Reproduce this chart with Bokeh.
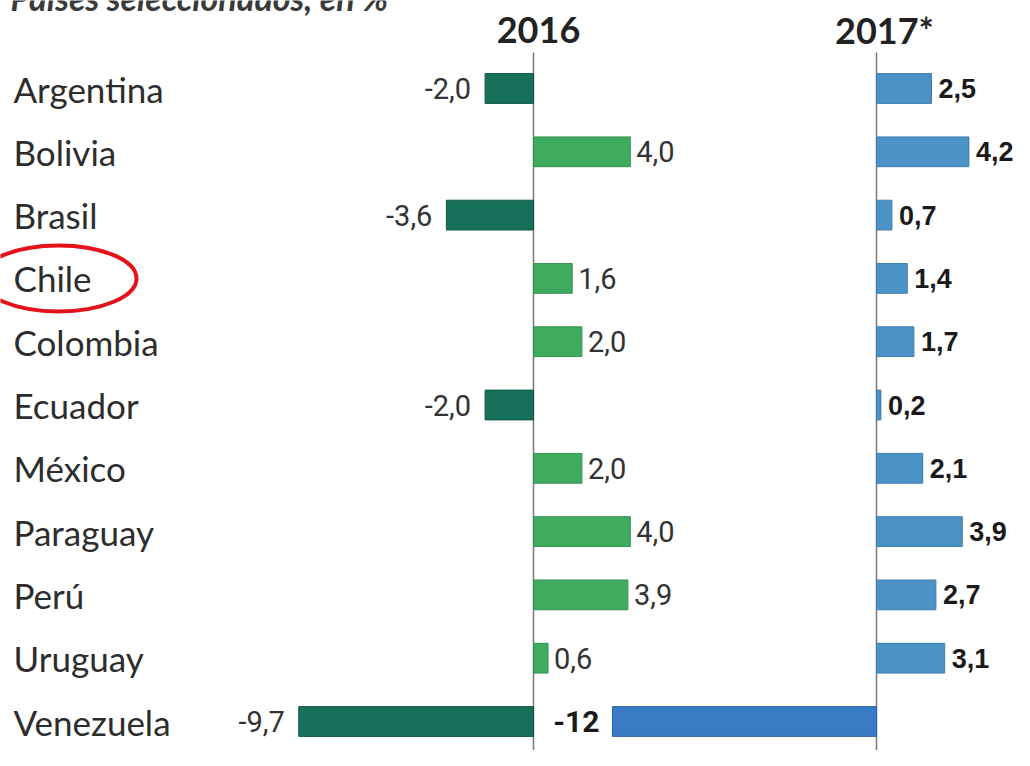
from bokeh.plotting import figure
from bokeh.models import Range1d, Label, ColumnDataSource
from bokeh.core.properties import value
from bokeh.embed import file_html
from bokeh.resources import INLINE

# ---- data ----
countries = ["Argentina", "Bolivia", "Brasil", "Chile", "Colombia", "Ecuador",
             "México", "Paraguay", "Perú", "Uruguay", "Venezuela"]
g2016 = [-2.0, 4.0, -3.6, 1.6, 2.0, -2.0, 2.0, 4.0, 3.9, 0.6, -9.7]
g2017 = [2.5, 4.2, 0.7, 1.4, 1.7, 0.2, 2.1, 3.9, 2.7, 3.1, -12.0]
lab2016 = ["-2,0", "4,0", "-3,6", "1,6", "2,0", "-2,0", "2,0", "4,0", "3,9", "0,6", "-9,7"]
lab2017 = ["2,5", "4,2", "0,7", "1,4", "1,7", "0,2", "2,1", "3,9", "2,7", "3,1", "-12"]
headers = ["2016", "2017*"]
subtitle = "Países seleccionados, en %"
highlight = "Chile"

# ---- layout constants ----
W, H = 1014, 750
PX16, AX16 = 24.2, 533     # px per unit, axis position (canvas px)
PX17, AX17 = 22.0, 876
PXY, ROW0 = 63.3, 88       # px per row, first row centre (canvas px)

x16 = Range1d(-AX16 / PX16, (W - AX16) / PX16)
x17 = Range1d(-AX17 / PX17, (W - AX17) / PX17)
ytop = ROW0 / PXY
yr = Range1d(ytop - H / PXY, ytop)

p = figure(width=W, height=H, x_range=x16, y_range=yr, output_backend="svg",
           toolbar_location=None, min_border=0, x_axis_location=None,
           y_axis_location=None, outline_line_color=None)
p.extra_x_ranges = {"y17": x17}
p.grid.visible = False
p.background_fill_color = "white"
p.border_fill_color = "white"

n = len(countries)
ys = [-i for i in range(n)]

# axis lines
line_top = ytop - 52 / PXY
p.segment(x0=[0], x1=[0], y0=[line_top], y1=[yr.start], line_color="#7a7a7a", line_width=1.5)
p.segment(x0=[0], x1=[0], y0=[line_top], y1=[yr.start], line_color="#7a7a7a", line_width=1.5,
          x_range_name="y17")

# bars 2016
src16 = ColumnDataSource(dict(
    y=ys, left=[min(v, 0) for v in g2016], right=[max(v, 0) for v in g2016],
    fill=["#17705a" if v < 0 else "#3fab5f" for v in g2016],
    line=["#0f5646" if v < 0 else "#35914f" for v in g2016]))
p.hbar(y="y", left="left", right="right", height=0.47, fill_color="fill",
       line_color="line", line_width=1, source=src16)

# bars 2017
src17 = ColumnDataSource(dict(
    y=ys, left=[min(v, 0) for v in g2017], right=[max(v, 0) for v in g2017],
    fill=["#3a7bc6" if v < 0 else "#4b93c6" for v in g2017],
    line=["#2f66a6" if v < 0 else "#3d7eae" for v in g2017]))
p.hbar(y="y", left="left", right="right", height=0.47, fill_color="fill",
       line_color="line", line_width=1, source=src17, x_range_name="y17")

# value labels 2016
narrow = value("Roboto")
pos16 = [i for i in range(n) if g2016[i] >= 0]
neg16 = [i for i in range(n) if g2016[i] < 0]
p.text(x=[g2016[i] for i in pos16], y=[ys[i] for i in pos16], text=[lab2016[i] for i in pos16],
       text_align="left", text_baseline="middle", x_offset=6, text_font=narrow,
       text_font_size="29px", text_color="#333333")
p.text(x=[g2016[i] for i in neg16], y=[ys[i] for i in neg16], text=[lab2016[i] for i in neg16],
       text_align="right", text_baseline="middle", x_offset=-14, text_font=narrow,
       text_font_size="29px", text_color="#333333")

# value labels 2017
pos17 = [i for i in range(n) if g2017[i] >= 0]
neg17 = [i for i in range(n) if g2017[i] < 0]
p.text(x=[g2017[i] for i in pos17], y=[ys[i] for i in pos17], text=[lab2017[i] for i in pos17],
       text_align="left", text_baseline="middle", x_offset=7, text_font=value("Liberation Sans"),
       text_font_style="bold", text_font_size="27px", text_color="#1a1a1a", x_range_name="y17")
p.text(x=[g2017[i] for i in neg17], y=[ys[i] for i in neg17], text=[lab2017[i] for i in neg17],
       text_align="right", text_baseline="middle", x_offset=-13, text_font=narrow,
       text_font_style="bold", text_font_size="30px", text_color="#1a1a1a", x_range_name="y17")

# country labels
p.text(x=[x16.start] * n, y=ys, text=countries, text_align="left", text_baseline="middle",
       x_offset=13, text_font=value("Lato"), text_font_size="35px", text_color="#2d2d2d")

# highlight ellipse
ih = countries.index(highlight)
p.ellipse(x=[x16.start + 58 / PX16], y=[ys[ih]], width=156, height=66,
          width_units="screen", height_units="screen", fill_color=None,
          line_color="#e3121b", line_width=4)

# headers
p.add_layout(Label(x=0, y=H - 29, y_units="screen", text=headers[0], text_align="center",
                   text_baseline="alphabetic", x_offset=5, text_font="Lato",
                   text_font_style="bold", text_font_size="36px", text_color="#222222"))
p.add_layout(Label(x=0, y=H - 29, y_units="screen", text=headers[1], text_align="center",
                   text_baseline="alphabetic", x_offset=8, text_font="Lato",
                   text_font_style="bold", text_font_size="36px", text_color="#222222",
                   x_range_name="y17"))

# subtitle (cut off at the top edge, as in the original)
p.add_layout(Label(x=10, y=H + 3, x_units="screen", y_units="screen", text=subtitle,
                   text_align="left", text_baseline="alphabetic", text_font="Lato",
                   text_font_style="bold italic", text_font_size="34px", text_color="#3a3a3a"))

open("out.html", "w").write(file_html(p, INLINE))
